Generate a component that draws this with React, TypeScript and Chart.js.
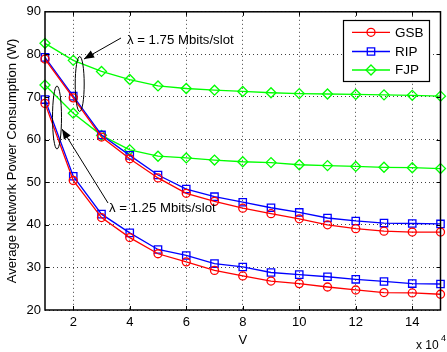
import React, { useEffect, useRef } from "react";
import { Chart, registerables } from "chart.js";

Chart.register(...registerables);

const V = [1, 2, 3, 4, 5, 6, 7, 8, 9, 10, 11, 12, 13, 14, 15];
const xTickValues = [2, 4, 6, 8, 10, 12, 14];
const gsbHigh = [78.9, 69.8, 60.6, 55.5, 51.0, 47.4, 45.5, 43.9, 42.6, 41.4, 40.0, 39.1, 38.5, 38.3, 38.3];
const ripHigh = [79.3, 70.2, 61.1, 56.3, 51.7, 48.4, 46.6, 45.3, 44.0, 42.9, 41.6, 40.9, 40.4, 40.3, 40.2];
const fjpHigh = [82.6, 78.6, 76.0, 74.1, 72.6, 72.0, 71.6, 71.3, 71.0, 70.8, 70.7, 70.6, 70.5, 70.4, 70.2];
const gsbLow = [68.5, 50.4, 41.7, 37.0, 33.2, 31.3, 29.3, 28.0, 26.8, 26.2, 25.4, 24.7, 24.1, 24.0, 23.7];
const ripLow = [69.4, 51.4, 42.5, 38.1, 34.2, 32.8, 30.9, 30.1, 28.8, 28.3, 27.8, 27.2, 26.7, 26.2, 26.1];
const fjpLow = [72.8, 66.2, 61.0, 57.6, 56.1, 55.7, 55.2, 54.8, 54.6, 54.1, 53.9, 53.7, 53.5, 53.4, 53.2];

const FONT = "'Liberation Sans', Arial, Helvetica, sans-serif";
const RED = "#ff0000";
const BLUE = "#0000ff";
const GREEN = "#00ff00";

const series = [
  { label: "GSB", color: RED, style: "circle", radius: 4 },
  { label: "RIP", color: BLUE, style: "rect", radius: 5.2 },
  { label: "FJP", color: GREEN, style: "rectRot", radius: 5 },
];

function pts(vals: number[]) {
  return vals.map((y, i) => ({ x: V[i], y }));
}

function ds(vals: number[], idx: number, showLabel: boolean) {
  const s = series[idx];
  return {
    label: showLabel ? s.label : s.label + " ",
    data: pts(vals),
    borderColor: s.color,
    backgroundColor: "rgba(0,0,0,0)",
    borderWidth: 1.3,
    pointStyle: s.style,
    pointRadius: s.radius,
    pointBorderWidth: 1.3,
    pointBorderColor: s.color,
    pointBackgroundColor: "rgba(0,0,0,0)",
    tension: 0,
    clip: false as any,
  };
}

function arrow(ctx: CanvasRenderingContext2D, x1: number, y1: number, x2: number, y2: number) {
  ctx.beginPath();
  ctx.moveTo(x1, y1);
  ctx.lineTo(x2, y2);
  ctx.stroke();
  const a = Math.atan2(y2 - y1, x2 - x1);
  const L = 10, W = 4;
  ctx.beginPath();
  ctx.moveTo(x2, y2);
  ctx.lineTo(x2 - L * Math.cos(a) + W * Math.sin(a), y2 - L * Math.sin(a) - W * Math.cos(a));
  ctx.lineTo(x2 - L * Math.cos(a) - W * Math.sin(a), y2 - L * Math.sin(a) + W * Math.cos(a));
  ctx.closePath();
  ctx.fill();
}

const overlay = {
  id: "overlay",
  afterDraw(chart: any) {
    const ctx: CanvasRenderingContext2D = chart.ctx;
    const { left, right, top, bottom } = chart.chartArea;
    const xs = chart.scales.x;
    const ys = chart.scales.y;
    ctx.save();
    ctx.strokeStyle = "#000";
    ctx.fillStyle = "#000";
    ctx.lineWidth = 1;
    // inward ticks
    ctx.beginPath();
    xTickValues.forEach((v) => {
      const px = Math.round(xs.getPixelForValue(v)) + 0.5;
      ctx.moveTo(px, bottom);
      ctx.lineTo(px, bottom - 4);
      ctx.moveTo(px, top);
      ctx.lineTo(px, top + 4);
    });
    [30, 40, 50, 60, 70, 80].forEach((v) => {
      const py = Math.round(ys.getPixelForValue(v)) + 0.5;
      ctx.moveTo(left, py);
      ctx.lineTo(left + 4, py);
      ctx.moveTo(right, py);
      ctx.lineTo(right - 4, py);
    });
    ctx.stroke();
    // box
    ctx.lineWidth = 1.5;
    ctx.strokeRect(left, top, right - left, bottom - top);

    // y title
    ctx.save();
    ctx.font = `13px ${FONT}`;
    ctx.textAlign = "center";
    ctx.textBaseline = "middle";
    ctx.translate(12, (top + bottom) / 2);
    ctx.rotate(-Math.PI / 2);
    ctx.fillText("Average Network Power Consumption (W)", 0, 0);
    ctx.restore();

    // x title
    ctx.font = `13px ${FONT}`;
    ctx.textAlign = "center";
    ctx.textBaseline = "middle";
    ctx.fillText("V", (left + right) / 2, 340);
    // x 10^4
    ctx.textAlign = "left";
    ctx.font = `12px ${FONT}`;
    ctx.fillText("x 10", 416, 346);
    ctx.font = `9px ${FONT}`;
    ctx.fillText("4", 441, 339);

    // annotations
    ctx.lineWidth = 1;
    ctx.beginPath();
    ctx.ellipse(79.7, 84, 4.5, 27.5, 0, 0, Math.PI * 2);
    ctx.stroke();
    ctx.beginPath();
    ctx.ellipse(57, 117.5, 4.5, 31.5, 0, 0, Math.PI * 2);
    ctx.stroke();
    arrow(ctx, 121, 38, 84, 59);
    arrow(ctx, 108, 203, 62, 129);
    ctx.font = `13.2px ${FONT}`;
    ctx.textAlign = "left";
    ctx.textBaseline = "middle";
    ctx.fillText("\u03bb = 1.75 Mbits/slot", 127, 40);
    ctx.fillText("\u03bb = 1.25 Mbits/slot", 109, 208);

    // legend
    const lx = 343.5, ly = 20.5, lw = 86, lh = 61;
    ctx.fillStyle = "#fff";
    ctx.fillRect(lx, ly, lw, lh);
    ctx.strokeStyle = "#000";
    ctx.lineWidth = 1.2;
    ctx.strokeRect(lx, ly, lw, lh);
    const rows = [32.3, 51.5, 70];
    series.forEach((s, i) => {
      const y = rows[i];
      ctx.strokeStyle = s.color;
      ctx.lineWidth = 1.3;
      ctx.beginPath();
      ctx.moveTo(352, y);
      ctx.lineTo(390, y);
      ctx.stroke();
      const cx = 371;
      ctx.beginPath();
      if (s.style === "circle") {
        ctx.arc(cx, y, 4, 0, Math.PI * 2);
      } else if (s.style === "rect") {
        ctx.rect(cx - 3.7, y - 3.7, 7.4, 7.4);
      } else {
        ctx.moveTo(cx, y - 5);
        ctx.lineTo(cx + 5, y);
        ctx.lineTo(cx, y + 5);
        ctx.lineTo(cx - 5, y);
        ctx.closePath();
      }
      ctx.stroke();
      ctx.fillStyle = "#000";
      ctx.font = `13.5px ${FONT}`;
      ctx.textAlign = "left";
      ctx.textBaseline = "middle";
      ctx.fillText(s.label, 395, y + 0.5);
    });
    ctx.restore();
  },
};

export default function App() {
  const ref = useRef<HTMLCanvasElement | null>(null);
  useEffect(() => {
    document.body.style.margin = "0";
    const canvas = ref.current!;
    const chart = new Chart(canvas, {
      type: "line",
      data: {
        datasets: [
          ds(gsbHigh, 0, true),
          ds(ripHigh, 1, true),
          ds(fjpHigh, 2, true),
          ds(gsbLow, 0, false),
          ds(ripLow, 1, false),
          ds(fjpLow, 2, false),
        ] as any,
      },
      options: {
        animation: false,
        responsive: false,
        devicePixelRatio: 1,
        layout: { padding: { top: 11, right: 1, left: 0, bottom: 0 } },
        plugins: { legend: { display: false }, tooltip: { enabled: false } },
        scales: {
          x: {
            type: "linear",
            min: 1,
            max: 15,
            afterBuildTicks: (scale: any) => {
              scale.ticks = xTickValues.map((v) => ({ value: v }));
            },
            afterFit: (scale: any) => {
              scale.height = 42;
            },
            ticks: {
              autoSkip: false,
              maxRotation: 0,
              padding: 5,
              color: "#000",
              font: { family: FONT, size: 13 },
            },
            grid: { color: "rgba(0,0,0,0.75)", drawTicks: false, lineWidth: 1 },
            border: { display: false, dash: [1, 3] },
          },
          y: {
            type: "linear",
            min: 20,
            max: 90,
            afterFit: (scale: any) => {
              scale.width = 45;
            },
            ticks: {
              stepSize: 10,
              padding: 4,
              color: "#000",
              font: { family: FONT, size: 13 },
            },
            grid: { color: "rgba(0,0,0,0.75)", drawTicks: false, lineWidth: 1 },
            border: { display: false, dash: [1, 3] },
          },
        },
      },
      plugins: [overlay],
    });
    return () => chart.destroy();
  }, []);
  return (
    <div style={{ position: "absolute", left: 0, top: 0, width: 447, height: 352, background: "#fff" }}>
      <canvas ref={ref} width={447} height={352} style={{ width: 447, height: 352 }} />
    </div>
  );
}
